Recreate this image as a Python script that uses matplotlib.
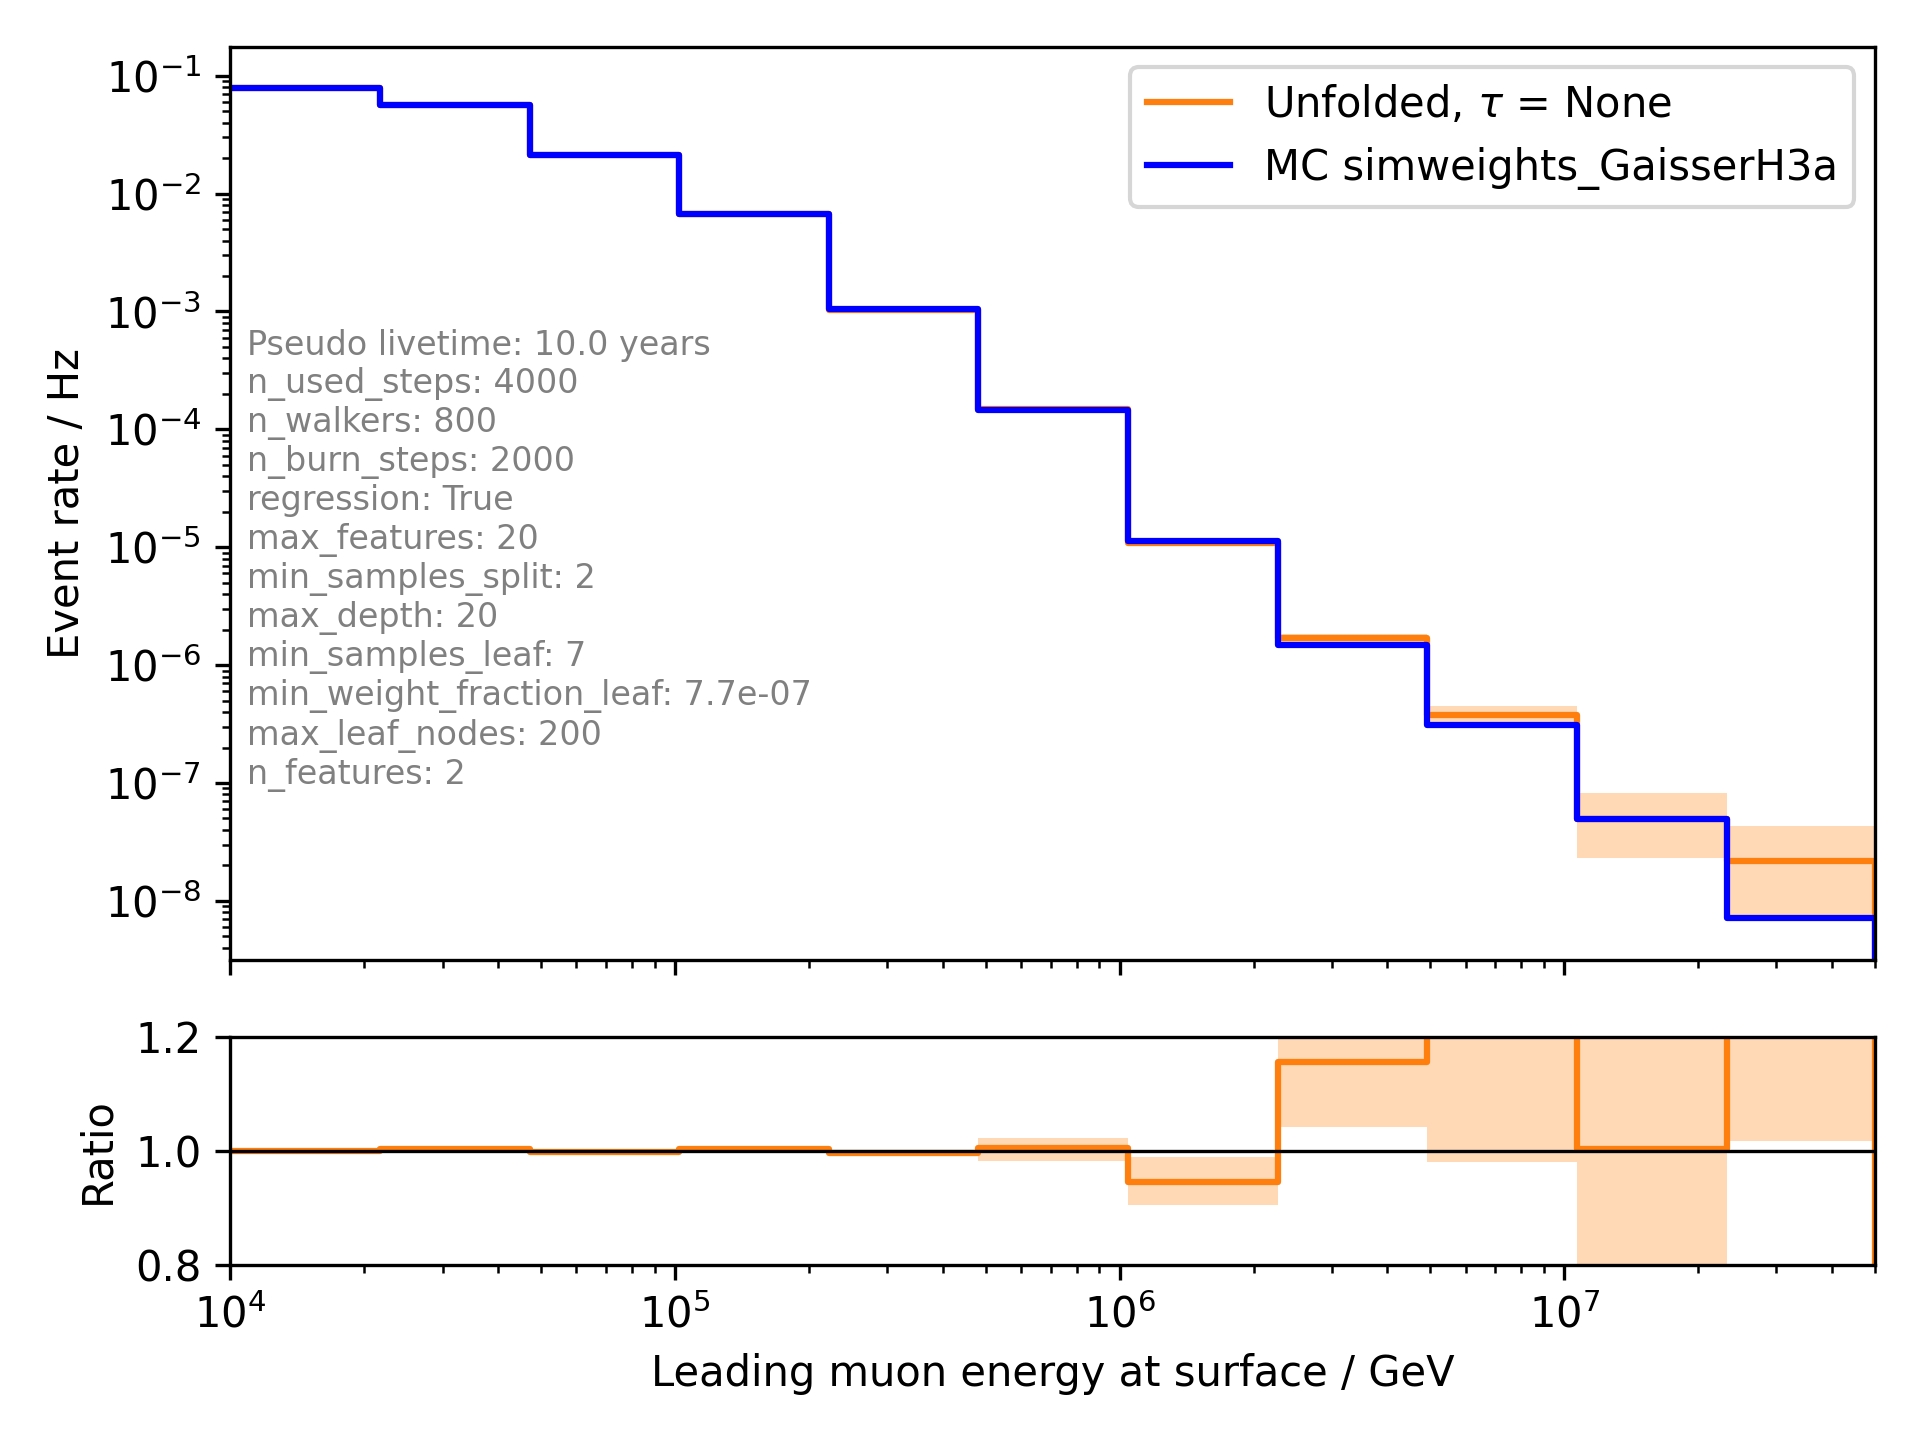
import numpy as np
import matplotlib
matplotlib.use("Agg")
import matplotlib.pyplot as plt

# bin edges in leading muon energy / GeV
bin_edges = [1.0e4, 2.17e4, 4.71e4, 1.02e5, 2.22e5, 4.81e5,
             1.045e6, 2.27e6, 4.92e6, 1.07e7, 2.32e7, 5.0e7]

# MC prediction (GaisserH3a) / Hz
mc_rate = [7.87e-2, 5.64e-2, 2.12e-2, 6.73e-3, 1.04e-3, 1.47e-4,
           1.14e-5, 1.47e-6, 3.10e-7, 4.93e-8, 7.13e-9]

# unfolded rate / Hz and its uncertainty band
unfolded_rate = [7.87e-2, 5.657e-2, 2.116e-2, 6.757e-3, 1.037e-3, 1.477e-4,
                 1.077e-5, 1.698e-6, 3.78e-7, 4.945e-8, 2.17e-8]
unfolded_lo = [7.855e-2, 5.646e-2, 2.112e-2, 6.744e-3, 1.035e-3, 1.445e-4,
               1.031e-5, 1.532e-6, 3.04e-7, 2.30e-8, 7.25e-9]
unfolded_hi = [7.885e-2, 5.668e-2, 2.120e-2, 6.770e-3, 1.039e-3, 1.502e-4,
               1.127e-5, 1.823e-6, 4.50e-7, 8.30e-8, 4.35e-8]

info_lines = [
    "Pseudo livetime: 10.0 years",
    "n_used_steps: 4000",
    "n_walkers: 800",
    "n_burn_steps: 2000",
    "regression: True",
    "max_features: 20",
    "min_samples_split: 2",
    "max_depth: 20",
    "min_samples_leaf: 7",
    "min_weight_fraction_leaf: 7.7e-07",
    "max_leaf_nodes: 200",
    "n_features: 2",
]

edges = np.array(bin_edges)
mc = np.array(mc_rate)
unf = np.array(unfolded_rate)
lo = np.array(unfolded_lo)
hi = np.array(unfolded_hi)

# ratio unfolded / MC
ratio = unf / mc
ratio_lo = lo / mc
ratio_hi = hi / mc

fig, (ax, axr) = plt.subplots(2, 1, sharex=True, figsize=(6.4, 4.8),
                              gridspec_kw={"height_ratios": [4, 1]})
fig.subplots_adjust(left=0.12, right=0.9766, top=0.9677, bottom=0.1215, hspace=0.135)

# upper panel
ax.fill_between(edges, np.append(lo, lo[-1]), np.append(hi, hi[-1]),
                step="post", color="C1", alpha=0.3, lw=0)
ax.step(edges, np.append(unf, 0), where="post", color="C1", lw=1.5,
        label=r"Unfolded, $\tau$ = None")
ax.step(edges, np.append(mc, 0), where="post", color="blue", lw=1.5,
        label="MC simweights_GaisserH3a")
ax.set_yscale("log")
ax.set_xscale("log")
ax.set_ylim(3.17e-9, 0.177)
ax.set_ylabel("Event rate / Hz")
ax.legend(loc="upper right")
ax.text(0.01, 0.691, "\n".join(info_lines), transform=ax.transAxes,
        va="top", ha="left", fontsize=8, color="gray")

# ratio panel
axr.fill_between(edges, np.append(ratio_lo, ratio_lo[-1]), np.append(ratio_hi, ratio_hi[-1]),
                 step="post", color="C1", alpha=0.3, lw=0)
axr.step(edges, np.append(ratio, 0), where="post", color="C1", lw=1.5)
axr.axhline(1.0, color="black", lw=0.8)
axr.set_ylim(0.8, 1.2)
axr.set_yticks([0.8, 1.0, 1.2])
axr.set_xlim(edges[0], edges[-1])
axr.set_ylabel("Ratio")
axr.set_xlabel("Leading muon energy at surface / GeV")

fig.savefig("out.png", dpi=300)
